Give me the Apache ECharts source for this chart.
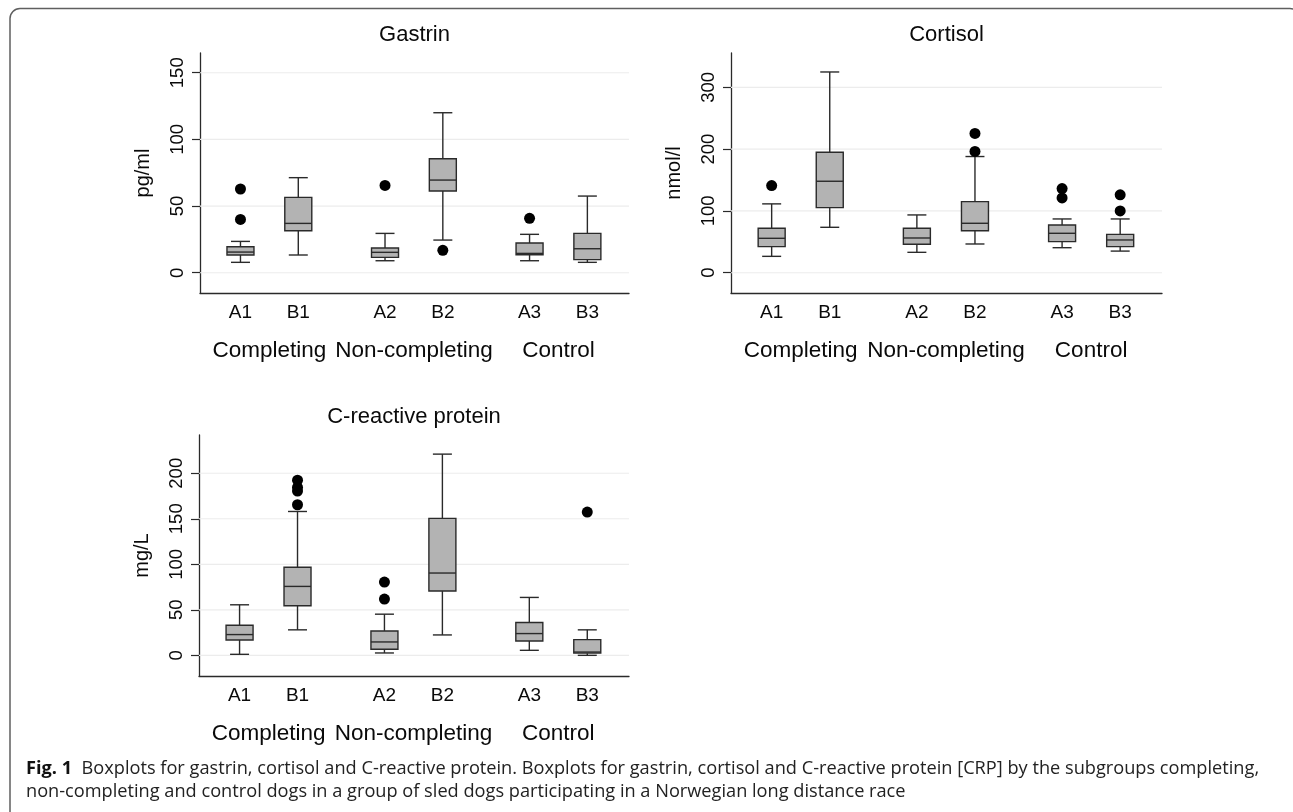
<!DOCTYPE html>
<html>
<head>
<meta charset="utf-8">
<script src="https://cdn.jsdelivr.net/npm/echarts@6/dist/echarts.min.js"></script>
<style>
html,body{margin:0;padding:0;background:#fff;}
#chart{width:1293px;height:812px;}
</style>
</head>
<body>
<div id="chart"></div>
<script>
// ---- data ----
const categories = ['A1', 'B1', 'A2', 'B2', 'A3', 'B3'];
const groups = ['Completing', 'Non-completing', 'Control'];

// [min, Q1, median, Q3, max] per category
const gastrinStats = [
  [7.8, 13.3, 15.5, 19.5, 23.5],
  [13.3, 31.5, 37, 56.5, 71.3],
  [9, 11.5, 15.3, 18.5, 29.5],
  [24.5, 61.3, 69.5, 85.5, 120],
  [9, 13.5, 14.5, 22.3, 28.8],
  [7.8, 9.8, 18, 29.5, 57.5]
];
const gastrinOutliers = [[62.8, 40], [], [65.5], [16.8], [40.8], []];
const gastrinTicks = [0, 50, 100, 150];

const cortisolStats = [
  [26.5, 42.2, 55.7, 71.9, 111.4],
  [73.5, 105.4, 148, 195, 324.8],
  [33, 46, 56.2, 71.9, 93.5],
  [46.5, 68, 80, 115, 188],
  [40.5, 50.3, 63.8, 77.3, 87],
  [35, 42.2, 53, 62, 87]
];
const cortisolOutliers = [[141], [], [], [225.4, 196.2], [136.2, 121], [126, 100]];
const cortisolTicks = [0, 100, 200, 300];

const crpStats = [
  [1.1, 16.9, 22.8, 33, 55.5],
  [28, 54.4, 75.7, 96.7, 158],
  [2.6, 6.6, 14.7, 26.8, 45.2],
  [22.4, 70.6, 90.4, 150.4, 221],
  [5.5, 15.8, 23.9, 36, 63.6],
  [0, 2.4, 3.6, 17.3, 28]
];
const crpOutliers = [[], [192.3, 184.5, 180.5, 165.4], [80.5, 61.8], [], [], [157.3]];
const crpTicks = [0, 50, 100, 150, 200];

// ---- layout helpers ----
function catPos(i) { return Math.floor(i / 2) * 2.5 + (i % 2); }
const groupPos = groups.map((g, k) => k * 2.5 + 0.5);
const FONT = '"Liberation Sans", Arial, sans-serif';
const INK = '#2a2a2a';

const panels = [
  { title: 'Gastrin', unit: 'pg/ml', stats: gastrinStats, outliers: gastrinOutliers, ticks: gastrinTicks,
    min: -15.2, max: 164.8, grid: { left: 200, top: 53, width: 429, height: 240 }, nameGap: 47 },
  { title: 'Cortisol', unit: 'nmol/l', stats: cortisolStats, outliers: cortisolOutliers, ticks: cortisolTicks,
    min: -32.8, max: 355.5, grid: { left: 731, top: 53, width: 431, height: 240 }, nameGap: 47 },
  { title: 'C-reactive protein', unit: 'mg/L', stats: crpStats, outliers: crpOutliers, ticks: crpTicks,
    min: -22.7, max: 242, grid: { left: 199, top: 435, width: 430, height: 241 }, nameGap: 47 }
];

function renderBox(params, api) {
  const x = api.value(0);
  const lo = api.coord([x, api.value(1)]);
  const q1 = api.coord([x, api.value(2)]);
  const md = api.coord([x, api.value(3)]);
  const q3 = api.coord([x, api.value(4)]);
  const hi = api.coord([x, api.value(5)]);
  const cx = lo[0], bw = 27, cw = 19;
  const ls = { stroke: INK, lineWidth: 1.4, fill: null };
  return {
    type: 'group',
    children: [
      { type: 'line', shape: { x1: cx, y1: lo[1], x2: cx, y2: q1[1] }, style: ls },
      { type: 'line', shape: { x1: cx, y1: q3[1], x2: cx, y2: hi[1] }, style: ls },
      { type: 'line', shape: { x1: cx - cw / 2, y1: lo[1], x2: cx + cw / 2, y2: lo[1] }, style: ls },
      { type: 'line', shape: { x1: cx - cw / 2, y1: hi[1], x2: cx + cw / 2, y2: hi[1] }, style: ls },
      { type: 'rect', shape: { x: cx - bw / 2, y: q3[1], width: bw, height: q1[1] - q3[1] },
        style: { fill: '#b3b3b3', stroke: INK, lineWidth: 1.4 } },
      { type: 'line', shape: { x1: cx - bw / 2, y1: md[1], x2: cx + bw / 2, y2: md[1] }, style: ls }
    ]
  };
}

function renderGridLine(params, api) {
  const cs = params.coordSys;
  const y = api.coord([0, api.value(0)])[1];
  return { type: 'line', shape: { x1: cs.x, y1: y, x2: cs.x + cs.width, y2: y },
    style: { stroke: '#ececec', lineWidth: 1.2 } };
}

const grid = [], xAxis = [], yAxis = [], series = [], graphic = [];
const catValues = categories.map((c, i) => catPos(i));

panels.forEach((p, k) => {
  grid.push(Object.assign({ containLabel: false }, p.grid));
  const xBase = { type: 'value', gridIndex: k, min: -0.7, max: 6.72, splitLine: { show: false },
    axisTick: { show: false } };
  xAxis.push(Object.assign({}, xBase, {
    position: 'bottom',
    axisLine: { show: true, onZero: false, lineStyle: { color: INK, width: 1.3 } },
    axisLabel: { customValues: catValues, margin: 10, fontFamily: FONT, fontSize: 19, color: '#0a0a0a',
      formatter: v => { const i = catValues.findIndex(c => Math.abs(c - v) < 1e-6); return i >= 0 ? categories[i] : ''; } }
  }));
  xAxis.push(Object.assign({}, xBase, {
    position: 'bottom', offset: 36,
    axisLine: { show: false, onZero: false },
    axisLabel: { customValues: groupPos, margin: 10, fontFamily: FONT, fontSize: 22.5, color: '#0a0a0a',
      formatter: v => { const i = groupPos.findIndex(c => Math.abs(c - v) < 1e-6); return i >= 0 ? groups[i] : ''; } }
  }));
  yAxis.push({
    type: 'value', gridIndex: k, min: p.min, max: p.max, position: 'left',
    name: p.unit, nameLocation: 'middle', nameGap: p.nameGap, nameRotate: 90,
    nameTextStyle: { fontFamily: FONT, fontSize: 20, color: '#0a0a0a' },
    axisLine: { show: true, onZero: false, lineStyle: { color: INK, width: 1.3 } },
    axisTick: { show: true, length: 8, customValues: p.ticks, lineStyle: { color: INK, width: 1.2 } },
    axisLabel: { customValues: p.ticks, rotate: 90, margin: 13, fontFamily: FONT, fontSize: 18.5, color: '#0a0a0a' },
    splitLine: { show: false }
  });
  const xi = k * 2;
  // horizontal grid lines at the y ticks
  series.push({
    type: 'custom', xAxisIndex: xi, yAxisIndex: k, z: 1, silent: true,
    renderItem: renderGridLine, encode: { y: 0 }, data: p.ticks.map(v => [v])
  });
  series.push({
    type: 'custom', xAxisIndex: xi, yAxisIndex: k, z: 3, silent: true,
    renderItem: renderBox,
    encode: { x: 0, y: [1, 2, 3, 4, 5] },
    data: p.stats.map((s, i) => [catPos(i)].concat(s))
  });
  const pts = [];
  p.outliers.forEach((arr, i) => arr.forEach(v => pts.push([catPos(i), v])));
  series.push({
    type: 'scatter', xAxisIndex: xi, yAxisIndex: k, z: 4, silent: true,
    symbol: 'circle', symbolSize: 11, itemStyle: { color: '#000', opacity: 1 }, data: pts
  });
  graphic.push({
    type: 'text', x: p.grid.left + p.grid.width / 2, y: p.grid.top - 18,
    style: { text: p.title, align: 'center', verticalAlign: 'middle', fontFamily: FONT, fontSize: 22, fill: '#0a0a0a' }
  });
});

// frame
graphic.push({ type: 'rect', shape: { x: 10, y: 8.5, width: 1290, height: 830, r: 10 },
  style: { fill: null, stroke: '#5f5f5f', lineWidth: 1.5 }, z: -1 });
// caption
const CAP = '"Open Sans", "Noto Sans", sans-serif';
graphic.push({ type: 'text', x: 26, y: 778, style: {
  text: '{b|Fig. 1}  Boxplots for gastrin, cortisol and C-reactive protein. Boxplots for gastrin, cortisol and C-reactive protein [CRP] by the subgroups completing,',
  verticalAlign: 'bottom', fontFamily: CAP, fontSize: 18.2, fill: '#222',
  rich: { b: { fontFamily: CAP, fontSize: 18.2, fontWeight: 'bold', fill: '#111' } } } });
graphic.push({ type: 'text', x: 26, y: 801, style: {
  text: 'non-completing and control dogs in a group of sled dogs participating in a Norwegian long distance race',
  verticalAlign: 'bottom', fontFamily: CAP, fontSize: 18.2, fill: '#222' } });

const chart = echarts.init(document.getElementById('chart'), null, { renderer: 'canvas' });
chart.setOption({ animation: false, backgroundColor: '#fff', grid, xAxis, yAxis, series, graphic });
</script>
</body>
</html>
